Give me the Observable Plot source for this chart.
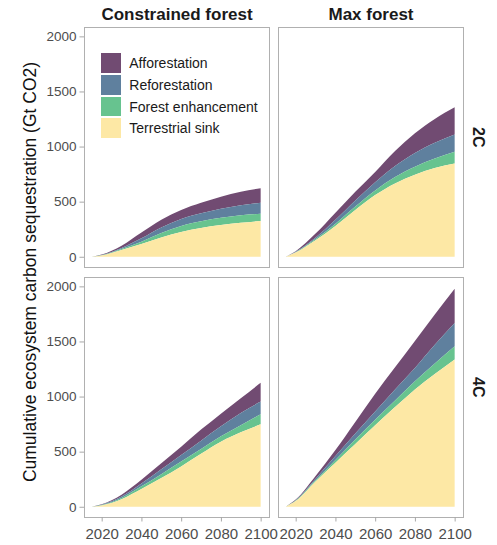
<!DOCTYPE html>
<html>
<head>
<meta charset="utf-8">
<script src="https://cdn.jsdelivr.net/npm/d3@7"></script>
<script src="https://cdn.jsdelivr.net/npm/@observablehq/plot@0.6"></script>
<style>
  body { margin: 0; background: #fff; font-family: "Liberation Sans", Arial, sans-serif; }
  #wrap { position: relative; width: 497px; height: 545px; overflow: hidden; }
  #wrap svg { position: absolute; left: 0; top: 0; }
  .ytitle { position: absolute; left: 31px; top: 272px; transform: translate(-50%, -50%) rotate(-90deg);
            white-space: nowrap; font-size: 17.5px; line-height: 1; color: #111; }
  .legend { position: absolute; left: 100.7px; top: 52.3px; }
  .legend .row { display: flex; align-items: center; height: 21.7px; }
  .legend .key { width: 20px; height: 19.5px; margin-right: 8.6px; }
  .legend .lab { font-size: 14px; color: #1a1a1a; white-space: nowrap; }
</style>
</head>
<body>
<div id="wrap"></div>
<script>
// ---- data ----
const years = [2015, 2020, 2030, 2040, 2050, 2060, 2070, 2080, 2090, 2100];
const components = ["Afforestation", "Reforestation", "Forest enhancement", "Terrestrial sink"];
const colors = ["#714b72", "#5f809e", "#67c38f", "#fde8a5"];
const scenarios = ["Constrained forest", "Max forest"];
const warming = ["2C", "4C"];
const xTicks = [2020, 2040, 2060, 2080, 2100];
const yTicks = [0, 500, 1000, 1500, 2000];
const yTitle = "Cumulative ecosystem carbon sequestration (Gt CO2)";

// 2C / Constrained forest
const c2_affor  = [0, 4, 20, 53, 70, 83, 96, 110, 122, 130];
const c2_refor  = [0, 2, 10, 30, 50, 62, 72, 82, 92, 100];
const c2_forest = [0, 2, 8, 22, 40, 55, 60, 65, 68, 67];
const c2_terr   = [0, 12, 62, 115, 175, 225, 262, 288, 308, 324];
// 2C / Max forest
const m2_affor  = [0, 6, 35, 65, 80, 95, 137, 178, 215, 247];
const m2_refor  = [0, 4, 15, 35, 55, 73, 100, 125, 144, 157];
const m2_forest = [0, 3, 10, 20, 30, 42, 58, 72, 86, 106];
const m2_terr   = [0, 38, 150, 280, 425, 560, 665, 745, 805, 846];
// 4C / Constrained forest
const c4_affor  = [0, 4, 18, 35, 55, 75, 100, 115, 135, 170];
const c4_refor  = [0, 3, 12, 25, 45, 60, 75, 90, 110, 116];
const c4_forest = [0, 3, 12, 25, 35, 45, 45, 50, 65, 91];
const c4_terr   = [0, 12, 68, 160, 260, 365, 480, 590, 675, 748];
// 4C / Max forest
const m4_affor  = [0, 5, 25, 55, 105, 160, 200, 245, 275, 310];
const m4_refor  = [0, 4, 15, 35, 55, 75, 100, 120, 170, 211];
const m4_forest = [0, 4, 10, 25, 40, 50, 60, 75, 95, 121];
const m4_terr   = [0, 52, 230, 400, 570, 740, 905, 1065, 1205, 1336];

const panels = [
  {col: scenarios[0], row: warming[0], series: [c2_affor, c2_refor, c2_forest, c2_terr]},
  {col: scenarios[1], row: warming[0], series: [m2_affor, m2_refor, m2_forest, m2_terr]},
  {col: scenarios[0], row: warming[1], series: [c4_affor, c4_refor, c4_forest, c4_terr]},
  {col: scenarios[1], row: warming[1], series: [m4_affor, m4_refor, m4_forest, m4_terr]}
];
const data = panels.flatMap(p => components.flatMap((c, i) =>
  years.map((yr, j) => ({col: p.col, row: p.row, component: c, year: yr, value: p.series[i][j]}))));
const rowLabels = warming.map(w => ({col: scenarios[1], row: w, label: w}));

const chart = Plot.plot({
  width: 497, height: 545,
  marginLeft: 83.5, marginRight: 33.3, marginTop: 27.3, marginBottom: 27.3,
  style: {fontFamily: "'Liberation Sans', Arial, sans-serif", background: "transparent"},
  x: {domain: [2011.1, 2104.2]},
  y: {domain: [-93, 2085]},
  fx: {domain: scenarios, paddingInner: 0.0463, paddingOuter: 0},
  fy: {domain: warming, paddingInner: 0.0384, paddingOuter: 0, axis: null},
  color: {domain: components, range: colors},
  marks: [
    Plot.areaY(data, {fx: "col", fy: "row", x: "year", y: "value", fill: "component",
      order: components.slice().reverse(), curve: "monotone-x"}),
    Plot.frame({stroke: "#b0b0b0", strokeWidth: 1}),
    Plot.axisX({ticks: xTicks, tickFormat: d => String(d), tickSize: 4.5, tickPadding: 6,
      stroke: "#a8a8a8", fill: "#4d4d4d", fontSize: 15, label: null}),
    Plot.axisY({ticks: yTicks, tickFormat: d => String(d), tickSize: 4.5, tickPadding: 3.5,
      stroke: "#a8a8a8", fill: "#4d4d4d", fontSize: 13.5, label: null}),
    Plot.axisFx({anchor: "top", label: null, tickSize: 0, tickPadding: 8,
      fontSize: 17, fontWeight: "bold", fill: "#1a1a1a"}),
    Plot.text(rowLabels, {fx: "col", fy: "row", text: "label", frameAnchor: "right",
      rotate: 90, dx: 15, fontSize: 16, fontWeight: "bold", fill: "#1a1a1a"})
  ]
});

const wrap = document.getElementById("wrap");
wrap.appendChild(chart);

const t = document.createElement("div");
t.className = "ytitle";
t.textContent = yTitle;
wrap.appendChild(t);

const lg = document.createElement("div");
lg.className = "legend";
components.forEach((c, i) => {
  const r = document.createElement("div");
  r.className = "row";
  const k = document.createElement("div");
  k.className = "key";
  k.style.background = colors[i];
  const l = document.createElement("span");
  l.className = "lab";
  l.textContent = c;
  r.appendChild(k); r.appendChild(l);
  lg.appendChild(r);
});
wrap.appendChild(lg);
</script>
</body>
</html>
